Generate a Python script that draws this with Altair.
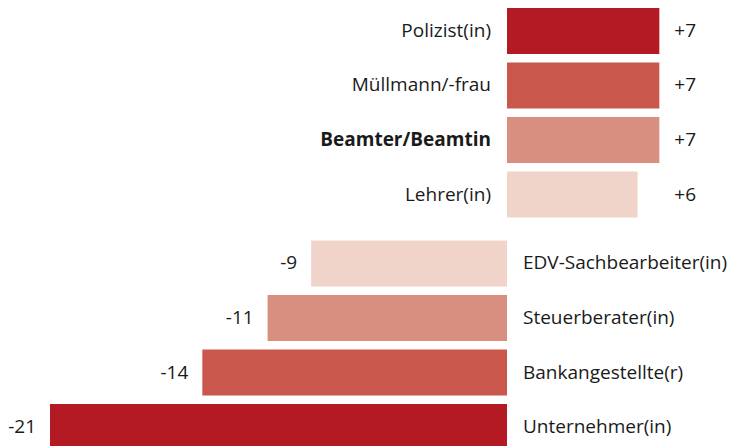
import altair as alt
import pandas as pd

categories = ["Polizist(in)", "Müllmann/-frau", "Beamter/Beamtin", "Lehrer(in)",
              "EDV-Sachbearbeiter(in)", "Steuerberater(in)", "Bankangestellte(r)", "Unternehmer(in)"]
values = [7, 7, 7, 6, -9, -11, -14, -21]
groups = ["plus", "plus", "plus", "plus", "minus", "minus", "minus", "minus"]
highlight = "Beamter/Beamtin"
shades = ["#B41A23", "#C9574B", "#D98F80", "#F0D4C9",
          "#F0D4C9", "#D98F80", "#C9574B", "#B41A23"]

df = pd.DataFrame({"category": categories, "value": values, "group": groups})

FONT = "Open Sans"
FS = 19
TXT = "#1a1a1a"
W = 722

x_scale = alt.Scale(domain=[-22.93, 10.247], nice=False, zero=False)
color_scale = alt.Scale(domain=categories, range=shades)


def panel(group, positive):
    cats = [c for c, g in zip(categories, groups) if g == group]
    base = alt.Chart(df).transform_filter(alt.datum.group == group).transform_calculate(
        label="datum.value > 0 ? '+' + datum.value : '' + datum.value",
        zero="0",
    ).transform_joinaggregate(maxv="max(value)")
    y = alt.Y("category:N", axis=None,
              scale=alt.Scale(domain=cats, paddingInner=0.156, paddingOuter=0))
    bars = base.mark_bar().encode(
        x=alt.X("value:Q", scale=x_scale, axis=None),
        x2="zero:Q",
        y=y,
        color=alt.Color("category:N", scale=color_scale, legend=None),
    )
    layers = [bars]
    for is_hl in (False, True):
        flt = (alt.datum.category == highlight) if is_hl else (alt.datum.category != highlight)
        layers.append(base.transform_filter(flt).mark_text(
            align="right" if positive else "left",
            dx=-16 if positive else 16,
            baseline="middle", font=FONT, fontSize=FS, color=TXT,
            fontWeight="bold" if is_hl else "normal",
        ).encode(
            x=alt.X("zero:Q", scale=x_scale, axis=None),
            y=y,
            text="category:N",
        ))
    val = base.mark_text(
        align="left" if positive else "right",
        dx=15 if positive else -14,
        baseline="middle", font=FONT, fontSize=FS, color=TXT,
    ).encode(
        x=alt.X("maxv:Q" if positive else "value:Q", scale=x_scale, axis=None),
        y=y,
        text="label:N",
    )
    layers.append(val)
    return alt.layer(*layers).properties(width=W, height=209.5)


chart = alt.vconcat(panel("plus", True), panel("minus", False), spacing=22.5).properties(
    padding=0
).configure_view(stroke=None)

chart.save("out.html", embed_options={"renderer": "svg", "actions": False})
